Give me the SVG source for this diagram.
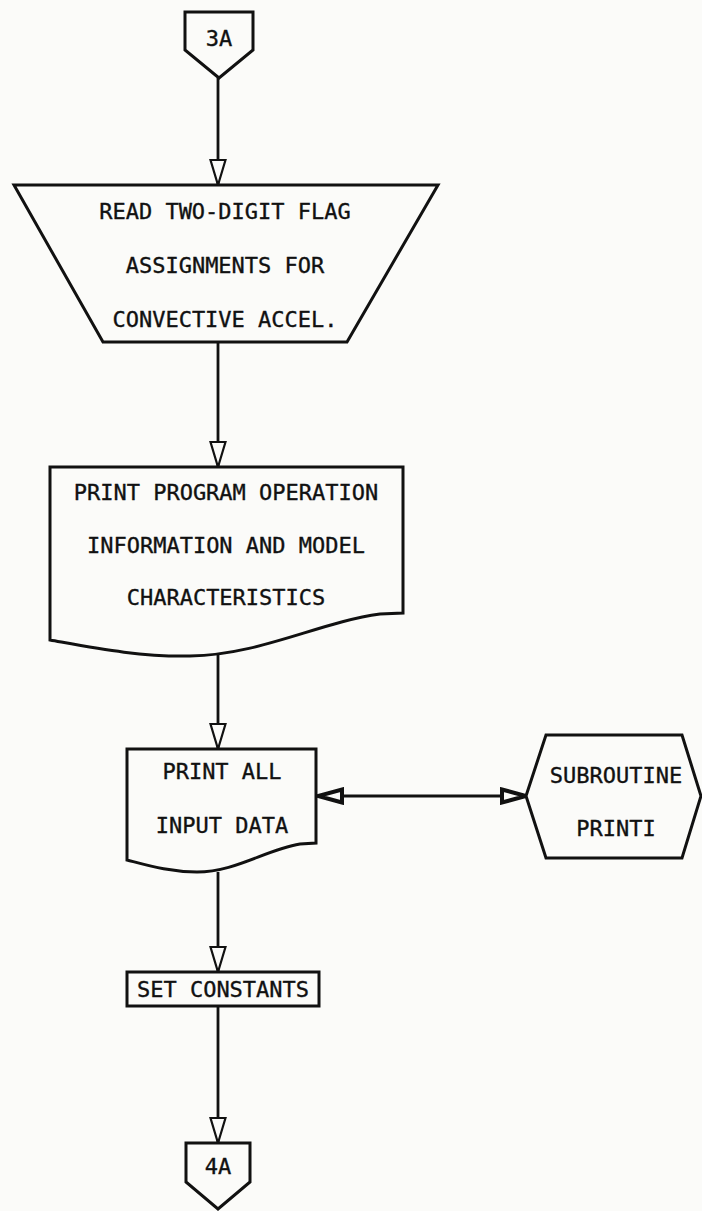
<svg xmlns="http://www.w3.org/2000/svg" width="702" height="1211" viewBox="0 0 702 1211">
<style>
.s{fill:#fbfbf9;stroke:#111;stroke-width:3;stroke-linejoin:miter}
.t{font-family:"DejaVu Sans Mono","Liberation Mono",monospace;font-size:22px;fill:#111;stroke:#111;stroke-width:0.35;text-anchor:middle}
.c{fill:none;stroke:#111;stroke-width:2.8}
</style>
<defs>
<marker id="ah" viewBox="0 0 28 18" markerWidth="28" markerHeight="18" refX="26" refY="9" orient="auto" markerUnits="userSpaceOnUse">
<path d="M1,1.5 L26,9 L1,16.5 Z" fill="#fbfbf9" stroke="#111" stroke-width="2.2"/>
</marker>
<marker id="bh" viewBox="0 0 28 18" markerWidth="28" markerHeight="18" refX="26" refY="9" orient="auto-start-reverse" markerUnits="userSpaceOnUse">
<path d="M2,2.5 L26,9 L2,15.5 Z" fill="#fbfbf9" stroke="#111" stroke-width="4"/>
</marker>
</defs>
<rect width="702" height="1211" fill="#fbfbf9"/>
<g id="connectors">
<path class="c" d="M218,78 V185" marker-end="url(#ah)"/>
<path class="c" d="M218,342 V467" marker-end="url(#ah)"/>
<path class="c" d="M218,652 V749" marker-end="url(#ah)"/>
<path class="c" d="M218,872 V972" marker-end="url(#ah)"/>
<path class="c" d="M218,1006 V1143" marker-end="url(#ah)"/>
<path class="c" d="M318,796 H526" marker-start="url(#bh)" marker-end="url(#bh)"/>
</g>
<g id="n3A">
<path class="s" d="M185,12 H253 V50 L219,78 L185,50 Z"/>
<text class="t" x="219" y="46">3A</text>
</g>
<g id="read">
<path class="s" d="M14,185 H438 L347,342 H103 Z"/>
<text class="t" x="225" y="219">READ TWO-DIGIT FLAG</text>
<text class="t" x="225" y="273">ASSIGNMENTS FOR</text>
<text class="t" x="225" y="327">CONVECTIVE ACCEL.</text>
</g>
<g id="printprog">
<path class="s" d="M50,467 H403 V613 L380,614 C320,622 260,655 190,656 C140,657 95,648 50,640 Z"/>
<text class="t" x="226" y="500">PRINT PROGRAM OPERATION</text>
<text class="t" x="226" y="553">INFORMATION AND MODEL</text>
<text class="t" x="226" y="605">CHARACTERISTICS</text>
</g>
<g id="printall">
<path class="s" d="M127,749 H316 V843 L300,844 C265,850 235,872 197,872 C170,872 150,866 127,860 Z"/>
<text class="t" x="222" y="779">PRINT ALL</text>
<text class="t" x="222" y="833">INPUT DATA</text>
</g>
<g id="printi">
<path class="s" d="M526,796 L546,735 H682 L701,796 L682,858 H546 Z"/>
<text class="t" x="616" y="783">SUBROUTINE</text>
<text class="t" x="616" y="836">PRINTI</text>
</g>
<g id="setconst">
<rect class="s" x="127" y="972" width="192" height="34"/>
<text class="t" x="223" y="997">SET CONSTANTS</text>
</g>
<g id="n4A">
<path class="s" d="M186,1143 H250 V1182 L218,1209 L186,1182 Z"/>
<text class="t" x="218" y="1174">4A</text>
</g>
</svg>
